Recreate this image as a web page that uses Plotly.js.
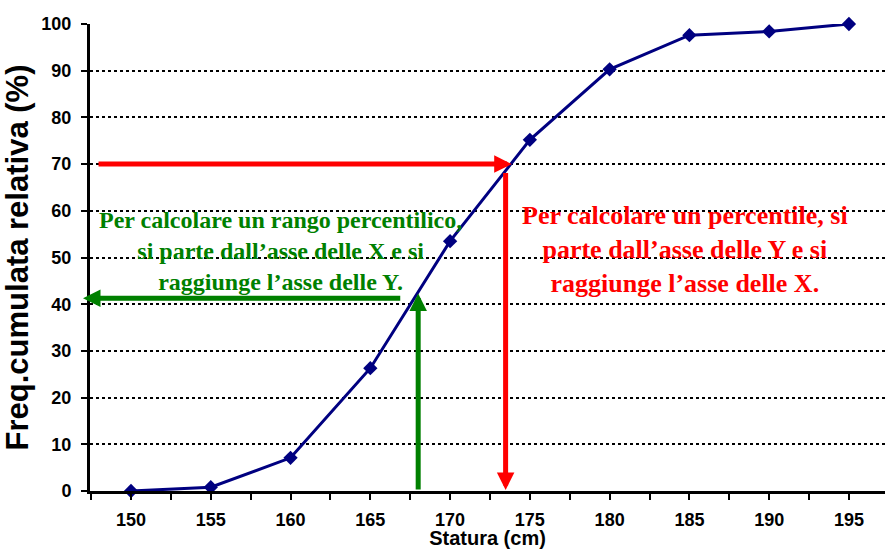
<!DOCTYPE html>
<html>
<head>
<meta charset="utf-8">
<script src="https://cdn.plot.ly/plotly-3.0.1.min.js"></script>
<style>html,body{margin:0;padding:0;background:#fff;}#chart{width:885px;height:549px;}</style>
</head>
<body>
<div id="chart"></div>
<script>
// Data
var statura = [150, 155, 160, 165, 170, 175, 180, 185, 190, 195];
var freqCumulata = [0, 0.8, 7.1, 26.3, 53.5, 75.2, 90.3, 97.6, 98.4, 100];
var xTickLabels = ['150','155','160','165','170','175','180','185','190','195'];
var yTickVals = [0, 10, 20, 30, 40, 50, 60, 70, 80, 90, 100];

// Arrow endpoints in data units (tail -> head)
var redHoriz = {x0: 147.87, y0: 70, x1: 173.86, y1: 70};
var redVert = {x0: 173.48, y0: 68.4, x1: 173.48, y1: 0.2};
var greenVert = {x0: 168.0, y0: 0, x1: 168.0, y1: 42.3};
var greenHoriz = {x0: 166.97, y0: 41.3, x1: 146.99, y1: 41.3};

var greenText = 'Per calcolare un rango percentilico,<br>si parte dall’asse delle X e si<br>raggiunge l’asse delle Y.';
var redText = 'Per calcolare un percentile, si<br>parte dall’asse delle Y e si<br>raggiunge l’asse delle X.';

function arrow(a, color) {
  return {
    x: a.x1, y: a.y1, ax: a.x0, ay: a.y0,
    xref: 'x', yref: 'y', axref: 'x', ayref: 'y',
    text: '', showarrow: true,
    arrowhead: 2, arrowsize: 0.7, arrowwidth: 5, arrowcolor: color,
    standoff: 0, startstandoff: 0
  };
}

var trace = {
  x: statura, y: freqCumulata,
  type: 'scatter', mode: 'lines+markers',
  line: {color: '#000080', width: 3},
  marker: {symbol: 'diamond', size: 11, color: '#000080'},
  cliponaxis: false,
  hoverinfo: 'x+y'
};

var axisFont = {size: 18, family: 'Arial, "Liberation Sans", sans-serif', weight: 'bold', color: '#000'};

var layout = {
  width: 885, height: 549,
  margin: {l: 90, r: 0, t: 24, b: 58},
  paper_bgcolor: '#ffffff', plot_bgcolor: '#ffffff',
  showlegend: false,
  font: {family: 'Arial, "Liberation Sans", sans-serif', color: '#000000'},
  xaxis: {
    range: [147.43, 197.26],
    tickmode: 'array', tickvals: statura, ticktext: xTickLabels,
    ticks: 'outside', ticklen: 6, tickwidth: 2, tickcolor: '#000',
    minor: {dtick: 2.5, tick0: 147.5, ticks: 'outside', ticklen: 6, tickwidth: 2, tickcolor: '#000', showgrid: false},
    showline: true, linecolor: '#000', linewidth: 3,
    showgrid: false, zeroline: false,
    tickfont: axisFont,
    ticklabelstandoff: 4,
    title: {text: 'Statura (cm)', font: {size: 20, weight: 'bold', family: 'Arial, "Liberation Sans", sans-serif', color: '#000'}, standoff: 3}
  },
  yaxis: {
    range: [0, 100],
    tickmode: 'array', tickvals: yTickVals,
    ticks: 'outside', ticklen: 6, tickwidth: 2, tickcolor: '#000',
    showline: true, linecolor: '#000', linewidth: 3,
    showgrid: true, gridcolor: '#000', gridwidth: 2, griddash: 'dot',
    zeroline: false,
    tickfont: axisFont,
    ticklabelstandoff: 6,
    title: {text: 'Freq.cumulata relativa (%)', font: {size: 31, weight: 'bold', family: 'Arial, "Liberation Sans", sans-serif', color: '#000'}, standoff: 4}
  },
  annotations: [
    arrow(redHoriz, '#ff0000'),
    arrow(redVert, '#ff0000'),
    arrow(greenVert, '#008000'),
    arrow(greenHoriz, '#008000'),
    {x: 159.34, y: 51.4, xref: 'x', yref: 'y', text: greenText, showarrow: false,
     font: {family: '"Liberation Serif", "Times New Roman", serif', size: 24, weight: 'bold', color: '#008000'}, align: 'center'},
    {x: 184.72, y: 51.8, xref: 'x', yref: 'y', text: redText, showarrow: false,
     font: {family: '"Liberation Serif", "Times New Roman", serif', size: 26, weight: 'bold', color: '#ff0000'}, align: 'center'}
  ]
};

Plotly.newPlot('chart', [trace], layout, {displayModeBar: false, staticPlot: true});
</script>
</body>
</html>
